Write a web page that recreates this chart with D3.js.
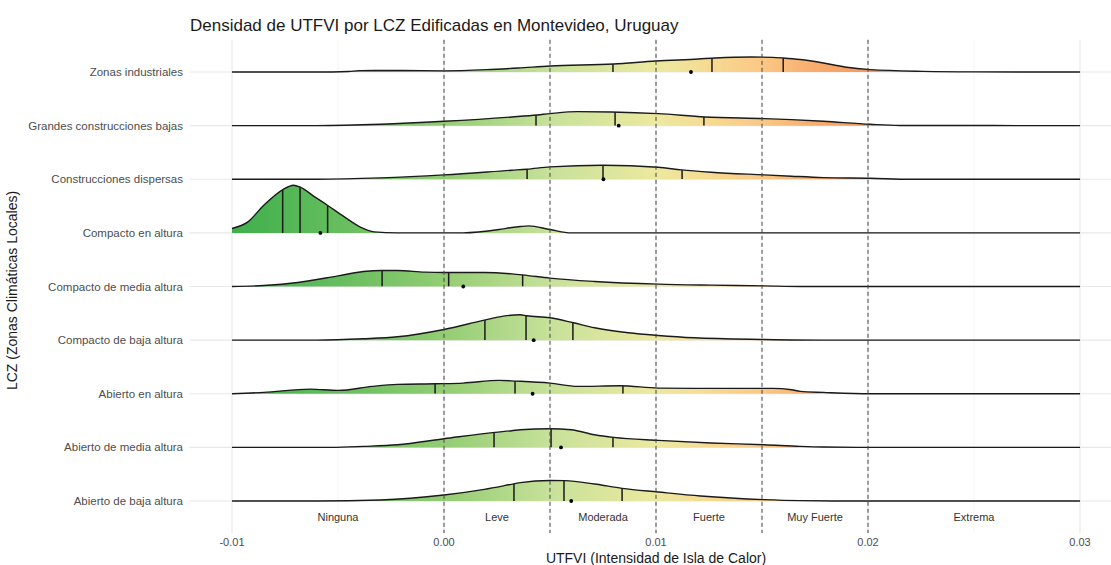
<!DOCTYPE html>
<html>
<head>
<meta charset="utf-8">
<script src="https://cdn.jsdelivr.net/npm/d3@7"></script>
<style>
  body { margin: 0; background: #fff; }
  svg { display: block; }
  text { font-family: "Liberation Sans", Arial, Helvetica, sans-serif; }
</style>
</head>
<body>
<svg id="chart" width="1111" height="565"></svg>
<script>
// LCZ categories, bottom row first
const categories = [
  "Abierto de baja altura",
  "Abierto de media altura",
  "Abierto en altura",
  "Compacto de baja altura",
  "Compacto de media altura",
  "Compacto en altura",
  "Construcciones dispersas",
  "Grandes construcciones bajas",
  "Zonas industriales"
];

// Kernel density estimates of UTFVI per LCZ: [UTFVI, density]
const densAbiertoBaja = [[-0.01,0],[-0.006,0],[-0.003,6],[0,36],[0.0019,70],[0.0033,103],[0.0036,110],[0.005,123],[0.0057,122],[0.0071,102],[0.0084,76],[0.0101,54],[0.0121,30],[0.0151,8],[0.0168,2],[0.019,0],[0.03,0]];
const densAbiertoMedia = [[-0.01,0],[-0.0053,0],[-0.0038,6],[-0.0022,16],[0,52],[0.0024,90],[0.0032,100],[0.0036,106],[0.005,112],[0.006,106],[0.0071,76],[0.008,60],[0.0101,42],[0.0126,26],[0.0151,16],[0.0168,6],[0.0179,2],[0.0201,0],[0.03,0]];
const densAbiertoAltura = [[-0.01,0],[-0.0085,8],[-0.0063,28],[-0.005,20],[-0.0034,44],[-0.0022,56],[-0.0004,60],[0.0009,64],[0.0026,80],[0.0034,76],[0.005,64],[0.0063,44],[0.0083,48],[0.0101,34],[0.0118,32],[0.0145,32],[0.0155,32],[0.0164,24],[0.0168,14],[0.0179,8],[0.0201,0],[0.03,0]];
const densCompactoBaja = [[-0.01,0],[-0.006,0],[-0.0038,8],[-0.0022,20],[0,64],[0.0019,120],[0.0028,144],[0.0036,152],[0.0039,146],[0.005,134],[0.0061,104],[0.0071,74],[0.0087,44],[0.0101,28],[0.0118,14],[0.0151,4],[0.018,0],[0.03,0]];
const densCompactoMedia = [[-0.01,0],[-0.0085,6],[-0.0069,24],[-0.005,64],[-0.0038,90],[-0.0029,96],[-0.0022,96],[-0.0009,86],[0,84],[0.0019,84],[0.0032,76],[0.0037,70],[0.005,50],[0.0071,30],[0.0101,14],[0.0126,8],[0.0151,4],[0.0168,0],[0.03,0]];
const densCompactoAltura = [[-0.01,26],[-0.00925,66],[-0.0085,166],[-0.0076,260],[-0.0071,286],[-0.0068,276],[-0.0061,216],[-0.0055,166],[-0.0047,96],[-0.0039,32],[-0.0033,6],[-0.0022,0],[0.0009,0],[0.0026,20],[0.0032,32],[0.0036,38],[0.004,42],[0.005,20],[0.006,0],[0.03,0]];
const densDispersas = [[-0.01,0],[-0.006,0],[-0.003,8],[0,26],[0.0032,54],[0.0039,60],[0.005,74],[0.0075,84],[0.0101,72],[0.0112,56],[0.0126,42],[0.0151,26],[0.0164,18],[0.0179,10],[0.0201,6],[0.022,0],[0.03,0]];
const densGrandes = [[-0.01,0],[-0.006,0],[-0.003,8],[0,26],[0.0032,52],[0.0044,64],[0.005,72],[0.0063,84],[0.0079,82],[0.0101,72],[0.0123,52],[0.0151,42],[0.0164,36],[0.0179,26],[0.0201,8],[0.0215,1],[0.03,0]];
const densIndustriales = [[-0.01,0],[-0.006,0],[-0.0045,3],[-0.004,8],[-0.002,9],[0,7],[0.002,14],[0.0035,24],[0.005,36],[0.008,48],[0.01,66],[0.012,78],[0.0128,84],[0.0145,90],[0.0155,88],[0.016,84],[0.0168,75],[0.0179,54],[0.0189,30],[0.0201,14],[0.0226,4],[0.025,1],[0.03,0]];

const densities = [densAbiertoBaja, densAbiertoMedia, densAbiertoAltura, densCompactoBaja,
  densCompactoMedia, densCompactoAltura, densDispersas, densGrandes, densIndustriales];

// Quartiles and mean of UTFVI per category (same order as categories)
const q25 = [0.0033, 0.00236, -0.00042, 0.00193, -0.00292, -0.00761, 0.00392, 0.00434, 0.00797];
const q50 = [0.00566, 0.00505, 0.00335, 0.00387, 0.00022, -0.00679, 0.0075, 0.00807, 0.01264];
const q75 = [0.0084, 0.00797, 0.00844, 0.00608, 0.00371, -0.00549, 0.01123, 0.01226, 0.0160];
const means = [0.006, 0.00552, 0.00418, 0.00423, 0.00091, -0.00583, 0.00752, 0.00824, 0.01165];

// Axis ticks
const xTicks = [-0.01, 0, 0.01, 0.02, 0.03];
const xTickLabels = ["-0.01", "0.00", "0.01", "0.02", "0.03"];
const xMinorTicks = [-0.005, 0.005, 0.015, 0.025];

// UTFVI class thresholds and class names
const thresholds = [0, 0.005, 0.01, 0.015, 0.02];
const classNames = ["Ninguna", "Leve", "Moderada", "Fuerte", "Muy Fuerte", "Extrema"];
const classCenters = [-0.005, 0.0025, 0.0075, 0.0125, 0.0175, 0.025];

// Fill palette along UTFVI
const paletteStops = [-0.01, -0.005, 0, 0.005, 0.01, 0.0125, 0.015, 0.0175, 0.02, 0.03];
const paletteColors = ["#3daf4b", "#66bd5e", "#93cd73", "#c7e19a", "#ece99f", "#f7da92", "#fac884", "#f8ac6e", "#f59a5e", "#ee6a40"];

const svg = d3.select("#chart");

const x = d3.scaleLinear().domain([-0.01, 0.03]).range([232, 1080]);
// rows indexed 1..n from bottom
const y = d3.scaleLinear().domain([1, categories.length]).range([501, 72]);
const h = d3.scaleLinear().domain([0, 300]).range([0, 50]);

const panelLeft = x(-0.012), panelRight = x(0.032);
const panelTop = y(categories.length + 0.6), panelBottom = y(0.4);

// Gradient
const defs = svg.append("defs");
const grad = defs.append("linearGradient")
  .attr("id", "utfviFill")
  .attr("gradientUnits", "userSpaceOnUse")
  .attr("x1", x(-0.01)).attr("x2", x(0.03))
  .attr("y1", 0).attr("y2", 0);
const [d0, d1] = x.domain();
paletteStops.forEach((s, i) => {
  grad.append("stop")
    .attr("offset", ((s - d0) / (d1 - d0)) * 100 + "%")
    .attr("stop-color", paletteColors[i]);
});

// Grid
const grid = svg.append("g");
grid.selectAll(".minor").data(xMinorTicks).join("line")
  .attr("x1", d => x(d)).attr("x2", d => x(d))
  .attr("y1", panelTop).attr("y2", panelBottom)
  .attr("stroke", "#efefef").attr("stroke-width", 0.6);
grid.selectAll(".major").data(xTicks).join("line")
  .attr("x1", d => x(d)).attr("x2", d => x(d))
  .attr("y1", panelTop).attr("y2", panelBottom)
  .attr("stroke", "#e8e8e8").attr("stroke-width", 1.1);
grid.selectAll(".hrow").data(categories).join("line")
  .attr("x1", panelLeft).attr("x2", panelRight)
  .attr("y1", (d, i) => y(i + 1)).attr("y2", (d, i) => y(i + 1))
  .attr("stroke", "#e8e8e8").attr("stroke-width", 1.1);

// Ridges
const ridges = svg.append("g");
categories.forEach((cat, i) => {
  const base = y(i + 1);
  const data = densities[i];
  const area = d3.area()
    .x(d => x(d[0]))
    .y0(base)
    .y1(d => base - h(d[1]))
    .curve(d3.curveMonotoneX);
  const top = d3.line()
    .x(d => x(d[0]))
    .y(d => base - h(d[1]))
    .curve(d3.curveMonotoneX);

  const clipId = "ridge-clip-" + i;
  defs.append("clipPath").attr("id", clipId)
    .append("path").attr("d", area(data));

  const g = ridges.append("g");
  g.append("path").attr("d", area(data)).attr("fill", "url(#utfviFill)");

  g.append("g").attr("clip-path", `url(#${clipId})`)
    .selectAll("line").data([q25[i], q50[i], q75[i]]).join("line")
    .attr("x1", d => x(d)).attr("x2", d => x(d))
    .attr("y1", base).attr("y2", base - 80)
    .attr("stroke", "#1a1a1a").attr("stroke-width", 1.5);

  g.append("path").attr("d", top(data))
    .attr("fill", "none").attr("stroke", "#1a1a1a").attr("stroke-width", 1.4);

  g.append("circle").attr("cx", x(means[i])).attr("cy", base)
    .attr("r", 1.9).attr("fill", "#000");
});

// Class threshold lines
svg.append("g").selectAll("line").data(thresholds).join("line")
  .attr("x1", d => x(d)).attr("x2", d => x(d))
  .attr("y1", panelTop).attr("y2", panelBottom)
  .attr("stroke", "#444").attr("stroke-width", 1)
  .attr("stroke-dasharray", "4 3");

// Class names
svg.append("g").selectAll("text").data(classNames).join("text")
  .attr("x", (d, i) => x(classCenters[i]))
  .attr("y", y(0.7))
  .attr("dy", "0.35em")
  .attr("text-anchor", "middle")
  .attr("font-size", 11)
  .attr("fill", "#333")
  .text(d => d);

// Y axis labels
svg.append("g").selectAll("text").data(categories).join("text")
  .attr("x", 183)
  .attr("y", (d, i) => y(i + 1))
  .attr("dy", "0.35em")
  .attr("text-anchor", "end")
  .attr("font-size", 11.5)
  .attr("fill", "#4d4d4d")
  .text(d => d);

// X axis labels
svg.append("g").selectAll("text").data(xTicks).join("text")
  .attr("x", d => x(d))
  .attr("y", 546)
  .attr("text-anchor", "middle")
  .attr("font-size", 11)
  .attr("fill", "#4d4d4d")
  .text((d, i) => xTickLabels[i]);

// Titles
svg.append("text")
  .attr("x", 190).attr("y", 31)
  .attr("font-size", 17)
  .attr("fill", "#1a1a1a")
  .text("Densidad de UTFVI por LCZ Edificadas en Montevideo, Uruguay");

svg.append("text")
  .attr("x", (x(-0.01) + x(0.03)) / 2).attr("y", 562.5)
  .attr("text-anchor", "middle")
  .attr("font-size", 14)
  .attr("fill", "#1a1a1a")
  .text("UTFVI (Intensidad de Isla de Calor)");

svg.append("text")
  .attr("transform", `translate(17,${(panelTop + panelBottom) / 2 + 4}) rotate(-90)`)
  .attr("text-anchor", "middle")
  .attr("font-size", 14)
  .attr("fill", "#1a1a1a")
  .text("LCZ (Zonas Climáticas Locales)");
</script>
</body>
</html>
